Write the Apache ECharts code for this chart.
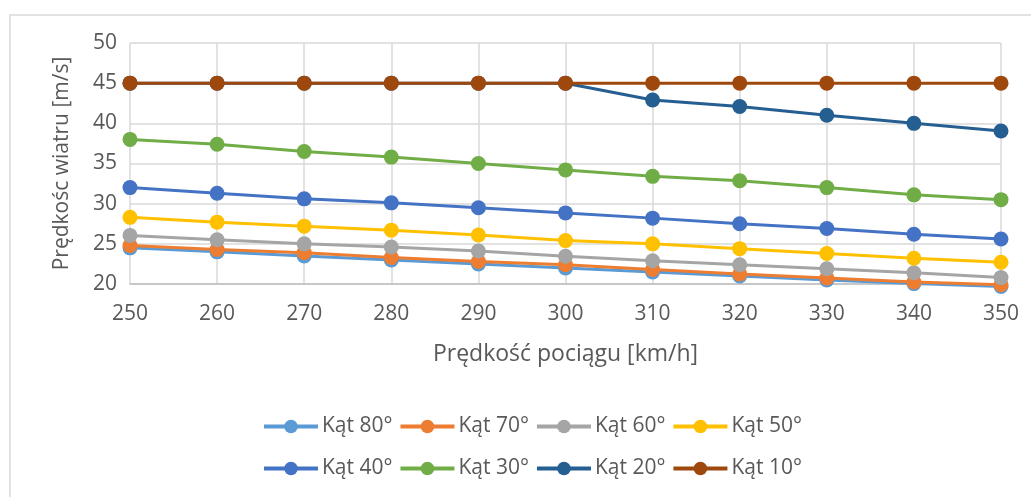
<!DOCTYPE html>
<html>
<head>
<meta charset="utf-8">
<script src="https://cdn.jsdelivr.net/npm/echarts@6/dist/echarts.min.js"></script>
<style>
html,body{margin:0;padding:0;background:#fff;}
#chart{width:1031px;height:497px;}
</style>
</head>
<body>
<div id="chart"></div>
<script>
const speeds = [250, 260, 270, 280, 290, 300, 310, 320, 330, 340, 350];
const seriesNames = ['Kąt 80°', 'Kąt 70°', 'Kąt 60°', 'Kąt 50°', 'Kąt 40°', 'Kąt 30°', 'Kąt 20°', 'Kąt 10°'];
const kat80 = [24.5, 24.0, 23.5, 23.0, 22.5, 22.0, 21.5, 21.0, 20.5, 20.05, 19.7];
const kat70 = [24.8, 24.3, 23.9, 23.3, 22.8, 22.4, 21.8, 21.25, 20.75, 20.25, 19.9];
const kat60 = [26.05, 25.5, 25.0, 24.6, 24.1, 23.45, 22.9, 22.4, 21.9, 21.4, 20.8];
const kat50 = [28.3, 27.7, 27.2, 26.7, 26.1, 25.4, 25.0, 24.4, 23.8, 23.2, 22.7];
const kat40 = [32.0, 31.3, 30.6, 30.1, 29.5, 28.85, 28.2, 27.5, 26.9, 26.2, 25.6];
const kat30 = [38.0, 37.4, 36.5, 35.8, 35.0, 34.2, 33.4, 32.85, 32.0, 31.1, 30.5];
const kat20 = [45, 45, 45, 45, 45, 45, 42.9, 42.1, 41.0, 40.0, 39.05];
const kat10 = [45, 45, 45, 45, 45, 45, 45, 45, 45, 45, 45];
const yTicks = [20, 25, 30, 35, 40, 45, 50];
const colors = ['#5B9BD5', '#ED7D31', '#A5A5A5', '#FFC000', '#4472C4', '#70AD47', '#255E91', '#9E480E'];
const allValues = [kat80, kat70, kat60, kat50, kat40, kat30, kat20, kat10];

const FONT = '"Open Sans", "Noto Sans", sans-serif';
const TXT = '#595959';
const FS = 21;

const chart = echarts.init(document.getElementById('chart'), null, {renderer: 'canvas'});
const series = seriesNames.map((name, i) => ({
  name: name,
  type: 'line',
  data: speeds.map((s, j) => [s, allValues[i][j]]),
  symbol: 'circle',
  symbolSize: 15,
  clip: false,
  lineStyle: {width: 3, color: colors[i]},
  itemStyle: {color: colors[i]},
  emphasis: {disabled: true},
  z: 2 + i
}));

const legendCommon = {
  left: 262,
  padding: 0,
  itemWidth: 54,
  itemHeight: 17,
  itemGap: 6,
  lineStyle: {width: 4},
  textStyle: {color: TXT, fontSize: FS, fontFamily: FONT, padding: [0, 0, 0, -1]},
  orient: 'horizontal'
};

chart.setOption({
  animation: false,
  color: colors,
  graphic: [{
    type: 'rect',
    shape: {x: 10, y: 15, width: 1040, height: 500},
    style: {fill: 'none', stroke: '#d9d9d9', lineWidth: 1.5},
    silent: true
  }],
  grid: {left: 130, right: 30, top: 43, bottom: 213, containLabel: false},
  legend: [
    Object.assign({}, legendCommon, {top: 416, data: seriesNames.slice(0, 4)}),
    Object.assign({}, legendCommon, {top: 458, data: seriesNames.slice(4, 8)})
  ],
  xAxis: {
    type: 'value',
    min: speeds[0],
    max: speeds[speeds.length - 1],
    interval: 10,
    name: 'Prędkość pociągu [km/h]',
    nameLocation: 'middle',
    nameGap: 59,
    nameTextStyle: {color: TXT, fontSize: 23, fontFamily: FONT},
    axisLine: {show: true, lineStyle: {color: '#bfbfbf', width: 1.5}},
    axisTick: {show: false},
    axisLabel: {color: TXT, fontSize: FS, fontFamily: FONT, margin: 20},
    splitLine: {show: true, lineStyle: {color: '#d9d9d9', width: 1.5}}
  },
  yAxis: {
    type: 'value',
    min: yTicks[0],
    max: yTicks[yTicks.length - 1],
    interval: 5,
    name: 'Prędkośc wiatru [m/s]',
    nameLocation: 'middle',
    nameGap: 57,
    nameRotate: 90,
    nameTextStyle: {color: TXT, fontSize: FS, fontFamily: FONT},
    axisLine: {show: false},
    axisTick: {show: false},
    axisLabel: {color: TXT, fontSize: FS, fontFamily: FONT, margin: 13},
    splitLine: {show: true, lineStyle: {color: '#d9d9d9', width: 1.5}}
  },
  series: series
});
</script>
</body>
</html>
